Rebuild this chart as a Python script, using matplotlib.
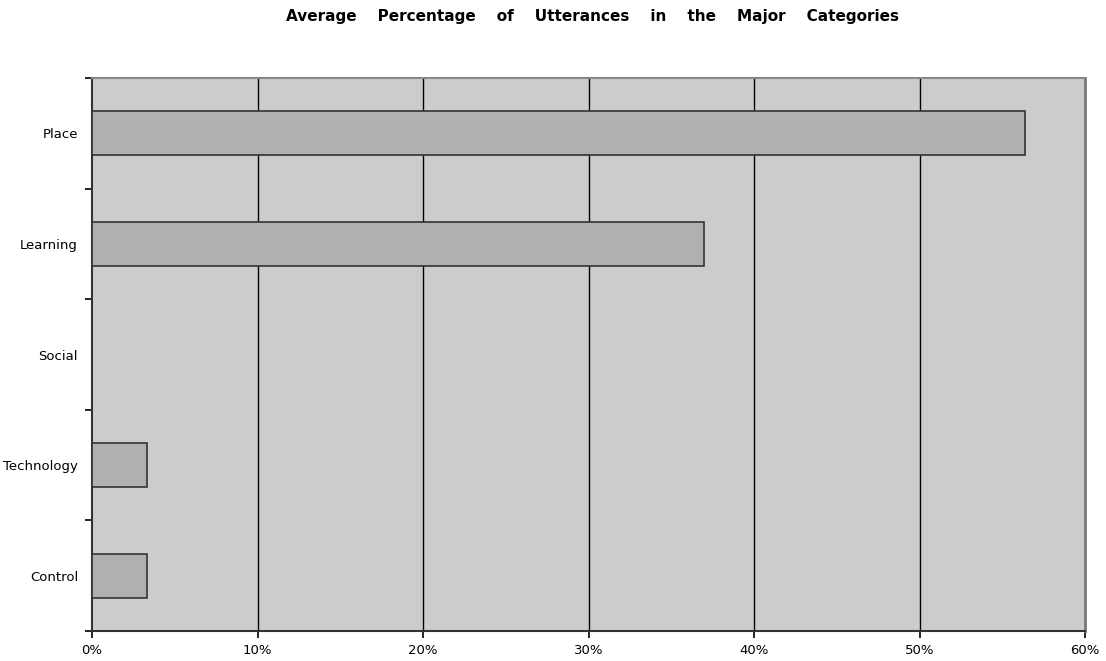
import numpy as np
from matplotlib import pyplot as plt

categories = ['Place', 'Learning', 'Social', 'Technology', 'Control']
values = [56.4, 37.0, 0.0, 3.35, 3.35]
xticks = [0, 10, 20, 30, 40, 50, 60]
xlabels = ['0%', '10%', '20%', '30%', '40%', '50%', '60%']

fig = plt.figure(figsize=(11.06, 6.61), dpi=100)
ax = fig.add_axes([92/1106, 1-631/661, (1085-92)/1106, (631-78)/661])
ax.set_facecolor('#cccccc')

pos = np.arange(len(categories))[::-1]
ax.barh(pos, values, height=0.4, color='#b0b0b0', edgecolor='#333333', linewidth=1.2, zorder=3)

ax.set_xlim(0, 60)
ax.set_ylim(-0.5, len(categories) - 0.5)
ax.set_xticks(xticks)
ax.set_xticklabels(xlabels, fontsize=9.5)
ax.set_yticks(pos)
ax.set_yticklabels(categories, fontsize=9.5)
ax.tick_params(axis='y', length=0, pad=10)
ax.set_yticks(np.arange(-0.5, len(categories), 1), minor=True)
ax.tick_params(axis='y', which='minor', length=5, width=1.2, direction='out')
ax.tick_params(axis='x', length=5, width=1.2, direction='out', pad=4)

for x in xticks[1:-1]:
    ax.axvline(x, color='black', linewidth=1, zorder=2)

ax.spines['left'].set_color('#333333')
ax.spines['left'].set_linewidth(1.5)
ax.spines['bottom'].set_color('#333333')
ax.spines['bottom'].set_linewidth(1.5)
ax.spines['top'].set_color('#888888')
ax.spines['top'].set_linewidth(1.5)
ax.spines['right'].set_color('#777777')
ax.spines['right'].set_linewidth(2)

fig.text(593/1106, 1-17/661, 'Average    Percentage    of    Utterances    in    the    Major    Categories',
         ha='center', va='center', fontsize=11, fontweight='bold')

fig.savefig('out.png', dpi=100)
